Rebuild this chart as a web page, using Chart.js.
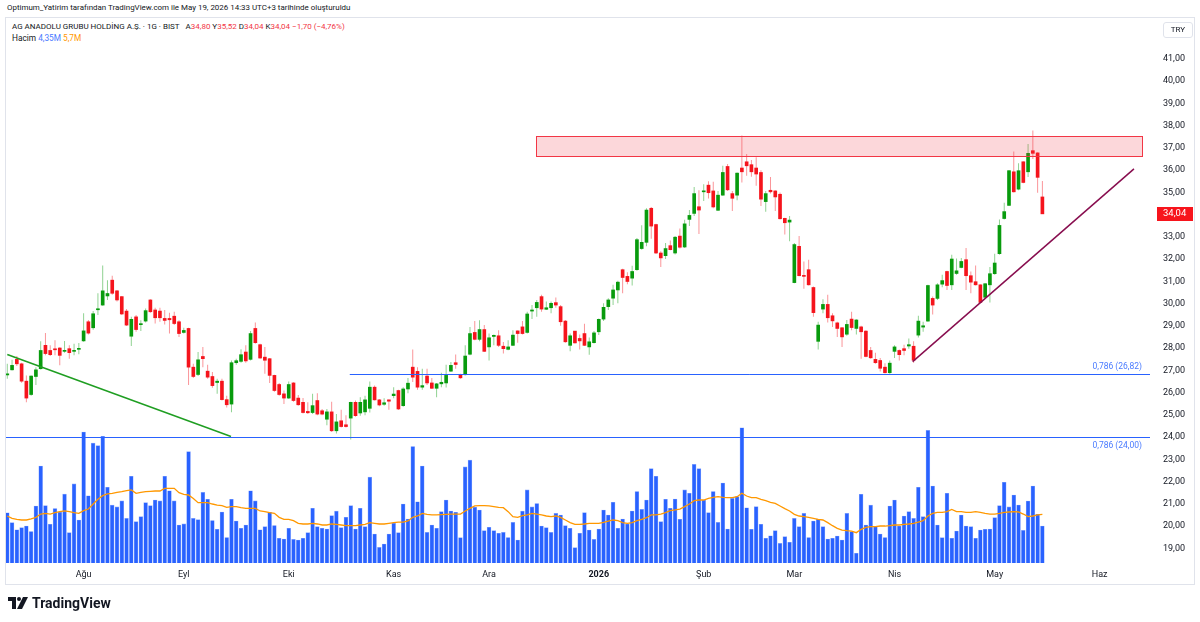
<!DOCTYPE html>
<html lang="tr">
<head>
<meta charset="utf-8">
<title>AG ANADOLU GRUBU HOLDİNG A.Ş. · 1G · BIST</title>
<script src="https://cdn.jsdelivr.net/npm/chart.js@4/dist/chart.umd.min.js"></script>
<style>
  html, body { margin: 0; padding: 0; background: #ffffff; }
  body { position: relative; width: 1200px; height: 622px; overflow: hidden; font-family: Roboto, 'Liberation Sans', sans-serif; color: #131722; }
  #frame { position: absolute; left: 5px; top: 17px; width: 1190px; height: 568px; border: 1px solid #e0e3eb; box-sizing: border-box; }
  #my-chart { position: absolute; left: 0; top: 0; }
  .txt { position: absolute; white-space: nowrap; line-height: 1; }
  #credit { left: 7px; top: 4px; font-size: 7.95px; }
  #title { left: 12px; top: 23px; font-size: 8px; }
  #vol-legend { left: 12px; top: 34px; font-size: 8.3px; }
  .red { color: #f23645; }
  .blue { color: #4a7bff; }
  .orange { color: #ff9800; }
  .gap { display: inline-block; width: 6px; }
  #currency { left: 1163px; top: 22px; width: 30px; height: 16px; border: 1px solid #e0e3eb; border-radius: 3px; font-size: 8px; text-align: center; line-height: 14px; box-sizing: border-box; }
  #logo { position: absolute; left: 8px; top: 597px; }
  #brand { left: 32px; top: 596px; font-size: 14px; font-weight: bold; }
</style>
</head>
<body>
<div id="frame"></div>
<div class="txt" id="credit">Optimum_Yatirim tarafından TradingView.com ile May 19, 2026 14:33 UTC+3 tarihinde oluşturuldu</div>
<div class="txt" id="title">AG ANADOLU GRUBU HOLDİNG A.Ş. · 1G · BIST<span class="gap"></span>A<span class="red">34,80</span> Y<span class="red">35,52</span> D<span class="red">34,04</span> K<span class="red">34,04</span> <span class="red">−1,70 (−4,76%)</span></div>
<div class="txt" id="vol-legend">Hacim <span class="blue">4,35M</span> <span class="orange">5,7M</span></div>
<canvas id="my-chart" width="1200" height="622" style="width:1200px;height:622px"></canvas>
<div class="txt" id="currency">TRY</div>
<svg id="logo" width="22" height="12" viewBox="0 0 22 12">
  <path d="M0 0 H8 V12 H4 V4 H0 Z" fill="#131722"/>
  <circle cx="11" cy="2" r="2" fill="#131722"/>
  <path d="M15 0 H20 L14 12 H9 Z" fill="#131722"/>
</svg>
<div class="txt" id="brand">TradingView</div>

<script>
'use strict';

// *** DATA (daily candles, one per trading day) ***

let openPrices = [
  26.8, 27.03, 27.5, 27.3, 26.52, 25.92, 26.73, 27.08, 28.13, 27.9,
  27.96, 28.01, 27.86, 27.98, 27.86, 27.95, 28.33, 29.19, 28.92, 29.73,
  29.94, 30.35, 31.06, 30.58, 30.32, 29.67, 28.54, 29.41, 29.06, 29.22,
  30.17, 29.72, 29.67, 29.34, 29.34, 29.44, 29.19, 28.71, 28.89, 27.15,
  26.82, 27.63, 26.97, 26.73, 26.46, 26.52, 25.69, 25.49, 27.35, 27.41,
  27.83, 27.5, 28.89, 28.16, 27.6, 27.53, 26.78, 26.37, 25.95, 25.76,
  26.44, 25.76, 25.57, 25.16, 25.11, 25.65, 25.19, 24.81, 25.14, 24.29,
  24.74, 24.56, 24.86, 25.57, 25.09, 25.14, 25.3, 26.25, 25.68, 25.48,
  25.68, 25.87, 26.1, 25.42, 26.17, 27.15, 26.96, 26.25, 26.75, 26.44,
  26.2, 26.4, 26.44, 26.97, 27.35, 26.82, 26.81, 27.73, 28.71, 28.4,
  28.84, 28.06, 28.53, 28.56, 28.09, 27.95, 28.13, 28.78, 28.96, 28.71,
  29.67, 29.82, 30.32, 29.75, 29.82, 30.05, 29.87, 29.22, 28.13, 28.77,
  28.44, 28.66, 28.06, 28.25, 28.74, 29.31, 29.87, 30.25, 30.62, 31.53,
  31.23, 31.15, 31.53, 32.48, 32.76, 34.29, 33.56, 32.28, 32.16, 32.61,
  32.28, 33.04, 32.55, 33.79, 34.06, 34.36, 35.03, 35.33, 35.07, 34.2,
  34.88, 36.17, 34.95, 34.88, 36.1, 36.38, 36.25, 36.1, 35.9, 34.59,
  35.1, 35.07, 34.92, 33.84, 33.67, 30.95, 32.58, 31.27, 31.53, 30.73,
  28.31, 29.76, 29.97, 29.46, 29.14, 28.92, 28.63, 29.31, 28.89, 28.96,
  28.77, 27.9, 27.5, 27.45, 27.15, 26.9, 27.86, 27.9, 27.98, 28.1,
  28.09, 28.59, 28.95, 29.22, 30.24, 30.24, 30.88, 31.45, 30.85, 31.36,
  31.63, 31.98, 31.26, 30.99, 30.85, 30.29, 30.85, 31.35, 32.25, 33.83,
  34.42, 35.93, 35.15, 36.38, 35.93, 36.88, 36.78, 34.8
];

let highPrices = [
  27.3, 27.48, 27.65, 27.35, 26.77, 26.78, 27.15, 28.31, 28.69, 28.13,
  28.36, 28.05, 28.33, 28.13, 28.2, 28.24, 29.57, 29.27, 29.67, 30.47,
  31.72, 31.06, 31.26, 30.62, 30.35, 29.76, 29.42, 29.49, 29.26, 29.79,
  30.2, 29.82, 29.82, 29.72, 29.6, 29.64, 29.26, 28.92, 28.92, 27.3,
  27.83, 28.06, 27.26, 26.93, 26.63, 26.63, 25.87, 27.45, 27.53, 27.95,
  28.13, 28.77, 29.16, 28.2, 28.06, 27.56, 26.81, 26.44, 26.1, 26.5,
  26.47, 25.9, 25.76, 25.57, 25.95, 25.98, 25.27, 25.27, 25.6, 25.04,
  25.24, 24.99, 25.6, 25.65, 25.8, 25.87, 26.5, 26.32, 25.72, 25.75,
  25.7, 26.25, 26.13, 26.25, 26.66, 27.94, 27.15, 27.08, 27.08, 26.66,
  26.44, 26.9, 27.26, 27.38, 27.72, 26.85, 28.13, 28.96, 29.22, 29.26,
  29.04, 28.66, 28.62, 28.81, 28.28, 28.36, 28.81, 28.8, 29.22, 29.64,
  29.94, 30.17, 30.4, 30.1, 30.1, 30.28, 29.94, 29.27, 28.66, 28.78,
  28.62, 29.1, 28.48, 28.77, 29.34, 30.02, 30.25, 30.85, 31.03, 31.57,
  31.42, 31.71, 32.96, 33.53, 34.29, 34.35, 33.59, 32.36, 32.73, 32.84,
  33.04, 33.38, 33.77, 34.21, 35.25, 35.1, 35.37, 35.5, 35.48, 35.07,
  36.2, 36.28, 35.07, 35.9, 37.56, 36.73, 36.46, 36.58, 36.0, 35.07,
  35.7, 35.1, 35.0, 33.87, 33.94, 32.73, 33.04, 31.9, 31.98, 30.77,
  29.19, 30.2, 30.4, 29.57, 29.19, 28.96, 29.27, 29.64, 29.3, 29.01,
  28.81, 28.06, 27.8, 27.56, 27.33, 27.45, 28.13, 27.94, 28.16, 28.44,
  28.31, 29.46, 29.19, 30.85, 30.32, 30.92, 31.3, 31.48, 32.2, 32.03,
  32.06, 32.51, 31.45, 31.72, 30.88, 30.92, 31.65, 32.25, 33.79, 34.54,
  36.01, 36.84, 36.31, 36.4, 37.18, 37.79, 36.81, 35.52
];

let lowPrices = [
  26.63, 27.0, 27.2, 26.45, 25.57, 25.87, 26.35, 27.05, 27.68, 27.65,
  27.68, 27.23, 27.8, 27.53, 27.68, 27.73, 28.29, 28.62, 28.83, 29.49,
  29.91, 30.17, 30.4, 30.1, 29.49, 29.0, 28.1, 28.74, 28.78, 29.16,
  29.6, 29.11, 29.19, 29.07, 28.66, 29.04, 28.51, 28.66, 26.35, 26.66,
  26.75, 27.15, 26.63, 26.22, 25.95, 25.65, 25.34, 25.12, 27.26, 27.35,
  27.35, 27.45, 28.2, 27.53, 26.85, 26.44, 26.05, 25.87, 25.49, 25.72,
  25.6, 25.42, 25.07, 25.04, 25.04, 24.99, 24.99, 24.54, 24.24, 24.17,
  24.44, 24.44, 23.9, 24.92, 24.97, 24.99, 25.11, 25.65, 25.39, 25.42,
  25.24, 25.75, 25.22, 25.37, 25.98, 26.48, 26.13, 26.13, 26.35, 26.17,
  25.8, 26.25, 26.23, 26.93, 27.08, 26.63, 26.78, 27.68, 28.36, 28.31,
  27.83, 27.45, 28.13, 28.06, 27.76, 27.91, 28.1, 28.25, 28.62, 28.66,
  29.31, 29.42, 29.64, 29.72, 29.57, 29.82, 29.01, 28.25, 27.86, 28.21,
  27.94, 28.1, 27.71, 28.21, 28.59, 29.22, 29.72, 29.94, 30.02, 30.47,
  30.88, 30.82, 31.48, 32.43, 32.58, 32.92, 32.24, 31.65, 32.01, 32.4,
  32.21, 32.48, 32.51, 33.49, 33.94, 33.14, 34.62, 34.73, 34.29, 34.17,
  34.85, 35.07, 34.17, 34.65, 35.45, 35.75, 35.71, 35.3, 34.39, 34.14,
  34.95, 34.17, 33.79, 33.11, 32.81, 30.92, 31.23, 30.67, 30.82, 29.42,
  27.94, 29.57, 29.16, 28.96, 28.51, 28.06, 28.56, 28.81, 28.62, 27.53,
  27.6, 27.53, 27.3, 26.95, 26.87, 26.85, 27.56, 27.45, 27.68, 27.98,
  27.35, 28.48, 28.74, 29.19, 29.52, 30.17, 30.74, 30.62, 30.62, 31.3,
  31.6, 30.62, 30.47, 30.82, 30.02, 30.24, 30.06, 31.3, 32.2, 33.79,
  34.39, 35.0, 35.1, 35.42, 35.7, 36.5, 34.99, 34.04
];

let closePrices = [
  26.85, 27.23, 27.3, 26.52, 25.76, 26.75, 27.03, 27.9, 27.76, 27.71,
  27.93, 27.68, 27.88, 27.8, 27.88, 27.98, 28.78, 28.68, 29.55, 29.77,
  30.58, 30.46, 30.47, 30.17, 29.54, 29.04, 29.3, 28.84, 29.09, 29.69,
  29.64, 29.37, 29.37, 29.25, 29.28, 29.11, 28.66, 28.8, 27.15, 26.73,
  27.48, 27.53, 26.7, 26.32, 26.52, 25.69, 25.46, 27.35, 27.44, 27.71,
  27.43, 28.66, 28.25, 27.56, 27.46, 26.78, 26.1, 25.92, 25.76, 26.37,
  25.65, 25.46, 25.11, 25.1, 25.42, 25.04, 25.04, 25.14, 24.29, 24.69,
  24.48, 24.48, 25.57, 24.97, 25.57, 25.68, 26.25, 25.68, 25.45, 25.55,
  25.62, 25.94, 25.27, 26.17, 26.43, 26.7, 26.25, 26.32, 26.44, 26.2,
  26.4, 26.47, 26.78, 27.23, 27.27, 26.67, 27.65, 28.66, 28.4, 28.84,
  27.86, 28.47, 28.58, 28.13, 27.98, 28.06, 28.59, 28.66, 28.66, 29.54,
  29.72, 30.06, 29.76, 29.82, 30.02, 29.94, 29.19, 28.29, 28.56, 28.24,
  28.33, 28.13, 28.29, 28.69, 29.3, 29.84, 30.17, 30.62, 30.97, 31.18,
  31.0, 31.45, 32.88, 32.76, 34.21, 33.49, 32.28, 32.06, 32.48, 32.43,
  32.99, 32.54, 33.59, 33.97, 34.95, 34.21, 35.07, 34.99, 34.35, 34.88,
  35.9, 35.12, 34.74, 35.87, 35.93, 36.2, 35.93, 35.83, 34.7, 34.95,
  35.03, 34.8, 33.82, 33.64, 33.76, 32.66, 31.26, 31.23, 30.85, 29.6,
  29.04, 29.97, 29.37, 29.23, 28.89, 28.51, 29.07, 28.93, 29.27, 28.74,
  27.63, 27.57, 27.35, 27.1, 26.9, 27.33, 28.06, 27.71, 27.9, 28.16,
  27.46, 29.22, 29.01, 30.82, 29.94, 30.85, 31.04, 30.82, 32.01, 31.48,
  31.9, 31.26, 30.97, 30.85, 30.06, 30.9, 31.35, 31.83, 33.52, 34.14,
  35.98, 35.03, 35.98, 35.45, 36.76, 36.76, 35.68, 34.04
];

// volume in millions of shares
let volumes = [
  5.9, 4.75, 3.9, 4.16, 4.35, 3.7, 6.7, 11.4, 6.75, 4.55,
  6.4, 5.96, 8.1, 3.57, 9.3, 5.06, 15.4, 7.9, 14.1, 13.8,
  14.9, 8.9, 6.8, 6.6, 7.3, 5.25, 10.2, 4.86, 5.45, 7.1,
  6.75, 7.4, 7.3, 10.2, 8.5, 7.3, 4.47, 4.6, 13.1, 5.25,
  5.1, 8.3, 7.5, 5.0, 3.96, 6.0, 3.0, 7.5, 4.94, 4.08,
  4.47, 8.5, 7.3, 3.9, 4.27, 5.96, 4.4, 2.9, 2.82, 4.08,
  2.78, 2.7, 2.9, 3.57, 6.43, 4.27, 4.08, 4.0, 5.57, 6.1,
  4.16, 5.37, 6.75, 4.0, 6.43, 4.27, 10.1, 3.41, 1.84, 2.24,
  3.41, 4.67, 3.57, 6.94, 5.18, 13.7, 7.2, 11.4, 3.6, 4.47,
  4.08, 6.04, 7.4, 6.12, 5.96, 2.98, 11.3, 12.1, 6.55, 6.24,
  3.8, 4.2, 3.8, 3.5, 3.6, 3.0, 4.78, 2.7, 6.1, 8.6,
  6.6, 7.0, 4.35, 4.16, 3.6, 5.84, 5.65, 4.39, 4.08, 1.8,
  3.49, 5.92, 3.88, 2.78, 4.0, 6.24, 5.65, 7.14, 4.08, 5.18,
  4.59, 6.12, 8.4, 6.3, 7.4, 11.1, 10.2, 4.86, 7.5, 6.43,
  7.53, 5.14, 8.6, 8.2, 11.6, 11.1, 7.4, 5.92, 8.4, 4.78,
  9.4, 4.0, 7.6, 7.8, 15.9, 6.5, 3.96, 6.63, 4.55, 2.9,
  3.2, 3.8, 2.3, 3.1, 2.43, 5.25, 4.27, 5.84, 3.0, 4.94,
  5.14, 4.27, 2.82, 2.9, 3.18, 2.7, 5.84, 3.69, 1.14, 8.08,
  4.47, 6.8, 4.27, 3.41, 3.0, 6.7, 7.4, 4.35, 5.53, 6.04,
  5.25, 8.9, 5.45, 15.6, 9.06, 4.47, 2.98, 8.2, 2.9, 3.76,
  5.65, 4.35, 4.27, 2.9, 3.88, 3.96, 4.0, 5.33, 6.75, 9.49,
  6.6, 8.0, 6.82, 3.84, 7.29, 9.06, 5.73, 4.35
];

// volume moving average line, as drawn (millions)
let volumeMA = [
  5.53, 5.25, 5.14, 5.06, 5.06, 5.18, 5.37, 5.76, 5.84, 5.76,
  5.92, 6.04, 6.12, 6.04, 5.92, 5.84, 6.16, 6.35, 6.94, 7.49,
  7.92, 8.12, 8.2, 8.31, 8.39, 8.51, 8.59, 8.2, 8.31, 8.39,
  8.43, 8.47, 8.47, 8.78, 8.78, 8.78, 8.27, 8.08, 8.0, 7.6,
  7.1, 7.1, 7.1, 6.94, 6.82, 6.75, 6.55, 6.63, 6.63, 6.51,
  6.43, 6.43, 6.43, 6.12, 6.04, 5.92, 5.84, 5.37, 5.14, 5.14,
  4.98, 4.67, 4.59, 4.59, 4.67, 4.59, 4.47, 4.47, 4.59, 4.55,
  4.47, 4.39, 4.39, 4.39, 4.47, 4.55, 4.75, 4.67, 4.59, 4.59,
  4.67, 4.75, 4.82, 4.82, 4.94, 5.37, 5.53, 5.84, 5.73, 5.65,
  5.65, 5.69, 5.73, 5.76, 5.76, 5.76, 6.12, 6.43, 6.71, 6.75,
  6.75, 6.71, 6.63, 6.55, 6.51, 6.04, 5.45, 5.37, 5.57, 5.65,
  5.84, 5.76, 5.65, 5.53, 5.45, 5.53, 5.37, 5.06, 4.75, 4.55,
  4.55, 4.59, 4.67, 4.67, 4.67, 4.78, 4.94, 5.06, 4.98, 4.75,
  4.67, 4.75, 4.98, 5.14, 5.33, 5.65, 5.65, 5.76, 5.92, 6.16,
  6.24, 6.35, 6.63, 6.94, 7.33, 7.41, 7.41, 7.61, 7.73, 7.8,
  7.73, 7.69, 7.69, 7.8, 8.2, 7.88, 7.69, 7.69, 7.49, 7.33,
  7.14, 7.02, 6.71, 6.39, 6.12, 5.73, 5.53, 5.45, 5.37, 5.25,
  5.14, 5.06, 4.75, 4.39, 4.08, 3.88, 3.8, 3.76, 3.57, 3.96,
  4.2, 4.27, 4.27, 4.35, 4.35, 4.39, 4.47, 4.47, 4.55, 4.59,
  4.67, 4.82, 4.98, 5.53, 5.84, 5.96, 5.96, 6.04, 6.31, 6.04,
  6.04, 5.96, 5.96, 6.04, 5.96, 5.84, 5.76, 5.76, 5.84, 5.96,
  6.0, 6.04, 6.0, 5.76, 5.45, 5.53, 5.65, 5.73
];

let priceTicks = [19, 20, 21, 22, 23, 24, 25, 26, 27, 28, 29, 30, 31, 32, 33, 34, 35, 36, 37, 38, 39, 40, 41];
let monthTicks = [16, 37, 59, 81, 101, 124, 146, 165, 186, 207, 229];
let monthLabels = ['Ağu', 'Eyl', 'Eki', 'Kas', 'Ara', '2026', 'Şub', 'Mar', 'Nis', 'May', 'Haz'];

// *** DRAWINGS (bar index, price) ***

let resistanceZone = { from: 110.8, to: 237.9, top: 37.52, bottom: 36.64 };
let downTrend = [[0, 27.72], [46.9, 24.03]];
let upTrend = [[189.8, 27.40], [236.2, 36.06]];
let fibLevels = [
  { ratio: '0,786', price: 26.82, from: 71.8, labelAbove: true },
  { ratio: '0,786', price: 24.00, from: -0.3, labelAbove: false }
];

// *** HELPERS ***

let fontFamily = 'Roboto, "Liberation Sans", sans-serif';

function trNum(v){
  return v.toFixed(2).replace('.', ',');
}

let wickData = [];
let bodyData = [];
let volData = [];
let maData = [];
let bodyColors = [];
let wickColors = [];

for(let i = 0; i < closePrices.length; i++){
  let up = closePrices[i] >= openPrices[i];
  wickData.push({ x: i, y: [lowPrices[i], highPrices[i]] });
  bodyData.push({ x: i, y: [openPrices[i], closePrices[i]] });
  volData.push({ x: i, y: volumes[i] });
  maData.push({ x: i, y: volumeMA[i] });
  bodyColors.push(up ? '#089b0d' : '#f5141c');
  wickColors.push(up ? 'rgba(8,155,13,0.45)' : 'rgba(245,20,28,0.45)');
}

// *** CUSTOM DRAWING PLUGIN ***

let drawingsPlugin = {
  id: 'drawings',
  afterDatasetsDraw(chart){
    let ctx = chart.ctx;
    let xs = chart.scales.x;
    let ys = chart.scales.y;
    let area = chart.chartArea;

    ctx.save();
    ctx.beginPath();
    ctx.rect(area.left, area.top, area.right - area.left, area.bottom - area.top);
    ctx.clip();

    // resistance box
    let bx1 = Math.round(xs.getPixelForValue(resistanceZone.from)) + 0.5;
    let bx2 = Math.round(xs.getPixelForValue(resistanceZone.to)) + 0.5;
    let by1 = Math.round(ys.getPixelForValue(resistanceZone.top)) + 0.5;
    let by2 = Math.round(ys.getPixelForValue(resistanceZone.bottom)) + 0.5;
    ctx.fillStyle = 'rgba(242, 54, 69, 0.2)';
    ctx.fillRect(bx1, by1, bx2 - bx1, by2 - by1);
    ctx.strokeStyle = '#f23645';
    ctx.lineWidth = 1;
    ctx.strokeRect(bx1, by1, bx2 - bx1, by2 - by1);

    // trend lines
    let lines = [
      { pts: downTrend, color: '#1f9e22' },
      { pts: upTrend, color: '#880e4f' }
    ];
    lines.forEach(function(line){
      ctx.strokeStyle = line.color;
      ctx.lineWidth = 1.5;
      ctx.beginPath();
      ctx.moveTo(xs.getPixelForValue(line.pts[0][0]), ys.getPixelForValue(line.pts[0][1]));
      ctx.lineTo(xs.getPixelForValue(line.pts[1][0]), ys.getPixelForValue(line.pts[1][1]));
      ctx.stroke();
    });

    // fibonacci levels
    fibLevels.forEach(function(level){
      let yPix = Math.round(ys.getPixelForValue(level.price)) + 0.5;
      let xStart = Math.max(area.left, xs.getPixelForValue(level.from));
      ctx.strokeStyle = '#2962ff';
      ctx.lineWidth = 1;
      ctx.beginPath();
      ctx.moveTo(xStart, yPix);
      ctx.lineTo(area.right, yPix);
      ctx.stroke();

      ctx.fillStyle = '#4a7bff';
      ctx.font = '8.5px ' + fontFamily;
      ctx.textAlign = 'right';
      ctx.textBaseline = 'middle';
      ctx.fillText(level.ratio + ' (' + trNum(level.price) + ')', area.right - 8, yPix + (level.labelAbove ? -8 : 8));
    });
    ctx.restore();

    // last price tag on the price axis
    let last = closePrices[closePrices.length - 1];
    let ty = ys.getPixelForValue(last);
    ctx.save();
    ctx.fillStyle = '#f7141c';
    ctx.fillRect(area.right + 7, Math.round(ty) - 7, 36, 14);
    ctx.fillStyle = '#ffffff';
    ctx.font = '9.5px ' + fontFamily;
    ctx.textAlign = 'left';
    ctx.textBaseline = 'middle';
    ctx.fillText(trNum(last), area.right + 13, Math.round(ty));
    ctx.restore();
  }
};

// *** CHART ***

let canvasElem = document.getElementById('my-chart');

let chartConfig = {
  type: 'bar',
  data: {
    datasets: [
      {
        label: 'Bodies',
        data: bodyData,
        backgroundColor: bodyColors,
        barThickness: 3,
        minBarLength: 1,
        grouped: false,
        order: 0
      },
      {
        label: 'Wicks',
        data: wickData,
        backgroundColor: wickColors,
        barThickness: 1,
        grouped: false,
        inflateAmount: 0,
        order: 1
      },
      {
        type: 'line',
        label: 'Hacim MA',
        data: maData,
        yAxisID: 'yv',
        borderColor: '#ff9800',
        borderWidth: 1.3,
        pointRadius: 0,
        tension: 0,
        order: 2
      },
      {
        label: 'Hacim',
        data: volData,
        yAxisID: 'yv',
        backgroundColor: '#2962ff',
        borderColor: 'rgba(120,155,255,0.9)',
        borderWidth: 0.6,
        barThickness: 3.8,
        grouped: false,
        order: 3
      }
    ]
  },
  options: {
    responsive: false,
    animation: false,
    devicePixelRatio: 1,
    layout: { padding: { left: 6, top: 47, right: 0, bottom: 0 } },
    plugins: {
      legend: { display: false },
      tooltip: { enabled: false }
    },
    scales: {
      x: {
        type: 'linear',
        min: -0.27,
        max: 239.56,
        offset: false,
        grid: { display: false, drawTicks: false },
        border: { display: false },
        afterBuildTicks: function(scale){
          scale.ticks = monthTicks.map(function(v){ return { value: v }; });
        },
        afterFit: function(scale){
          scale.height = 57;
        },
        ticks: {
          autoSkip: false,
          maxRotation: 0,
          padding: 4,
          color: '#131722',
          font: function(c){
            return { family: fontFamily, size: 9, weight: c.index === 5 ? 'bold' : 'normal' };
          },
          callback: function(value, index){
            return monthLabels[index];
          }
        }
      },
      y: {
        position: 'right',
        min: 18.258,
        max: 41.539,
        grid: { display: false, drawTicks: false },
        border: { display: false },
        afterBuildTicks: function(scale){
          scale.ticks = priceTicks.map(function(v){ return { value: v }; });
        },
        afterFit: function(scale){
          scale.width = 50;
        },
        ticks: {
          padding: 13,
          color: '#131722',
          font: { family: fontFamily, size: 9 },
          callback: function(value){
            return trNum(value);
          }
        }
      },
      yv: {
        display: false,
        position: 'left',
        min: -0.235,
        max: 60.7
      }
    }
  },
  plugins: [drawingsPlugin]
};

new Chart(canvasElem, chartConfig);
</script>
</body>
</html>
